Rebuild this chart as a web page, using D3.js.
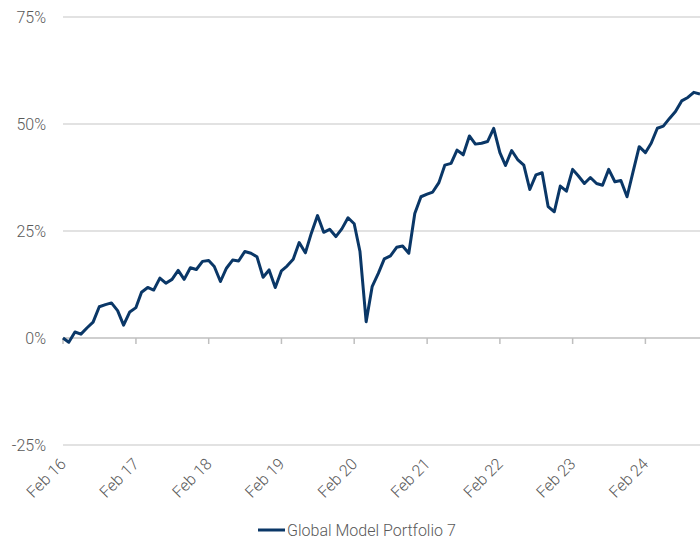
<!DOCTYPE html>
<html>
<head>
<meta charset="utf-8">
<script src="https://cdn.jsdelivr.net/npm/d3@7"></script>
<style>
  body { margin: 0; background: #fff; }
  svg text { font-family: Roboto, "Liberation Sans", sans-serif; font-weight: 300; fill: #595959; }
</style>
</head>
<body>
<svg id="chart" width="700" height="542"></svg>
<script>
// monthly cumulative return (%), Feb 2016 .. Nov 2024
const startMonth = new Date(2016, 1, 1);
const portfolio7 = [
  0, -1.0, 1.4, 0.9, 2.4, 3.7, 7.3, 7.8, 8.2, 6.4, 3.0, 6.1,
  7.1, 10.7, 11.8, 11.2, 14.0, 12.8, 13.7, 15.8, 13.7, 16.4, 16.0, 17.9,
  18.1, 16.7, 13.2, 16.3, 18.2, 18.0, 20.2, 19.8, 19.0, 14.2, 15.9, 11.8,
  15.7, 16.8, 18.4, 22.3, 19.9, 24.5, 28.6, 24.7, 25.4, 23.7, 25.5, 28.1,
  26.7, 20.2, 3.8, 12.0, 15.1, 18.5, 19.2, 21.2, 21.5, 19.8, 29.1, 33.0,
  33.6, 34.1, 36.3, 40.4, 40.8, 43.9, 42.8, 47.2, 45.3, 45.5, 45.9, 49.0,
  43.3, 40.3, 43.8, 41.7, 40.4, 34.7, 38.1, 38.6, 30.7, 29.5, 35.5, 34.3,
  39.4, 37.9, 36.1, 37.5, 36.1, 35.7, 39.4, 36.5, 36.8, 33.0, 38.8, 44.7,
  43.3, 45.5, 49.0, 49.5, 51.3, 52.9, 55.4, 56.2, 57.4, 57.0
];
const seriesName = "Global Model Portfolio 7";
const yTicks = [-25, 0, 25, 50, 75];
const xTickLabels = ["Feb 16", "Feb 17", "Feb 18", "Feb 19", "Feb 20", "Feb 21", "Feb 22", "Feb 23", "Feb 24"];

const dates = portfolio7.map((d, i) => d3.timeMonth.offset(startMonth, i));
const xTickDates = xTickLabels.map((d, i) => new Date(2016 + i, 1, 1));

const svg = d3.select("#chart");
const left = 63, right = 700;

const x = d3.scaleTime().domain([dates[0], dates[dates.length - 1]]).range([left, right]);
const y = d3.scaleLinear().domain([-25, 75]).range([445, 17]);

// gridlines
svg.append("g").selectAll("line").data(yTicks.filter(d => d !== 0)).enter().append("line")
  .attr("x1", left).attr("x2", right)
  .attr("y1", d => y(d)).attr("y2", d => y(d))
  .attr("stroke", "#d9d9d9").attr("stroke-width", 1.5);

// y labels
svg.append("g").selectAll("text").data(yTicks).enter().append("text")
  .attr("x", 46).attr("y", d => y(d)).attr("dy", "0.35em")
  .attr("text-anchor", "end").style("font-size", "16px")
  .text(d => d + "%");

// zero axis with ticks
svg.append("line").attr("x1", left).attr("x2", right)
  .attr("y1", y(0)).attr("y2", y(0))
  .attr("stroke", "#bfbfbf").attr("stroke-width", 1.5);
svg.append("g").selectAll("line").data(xTickDates).enter().append("line")
  .attr("x1", d => x(d)).attr("x2", d => x(d))
  .attr("y1", y(0)).attr("y2", y(0) + 6)
  .attr("stroke", "#bfbfbf").attr("stroke-width", 1.5);

// x labels, rotated, below the plot
svg.append("g").selectAll("text").data(xTickDates).enter().append("text")
  .attr("transform", d => "translate(" + (x(d) + 4) + ",465) rotate(-45)")
  .attr("text-anchor", "end").style("font-size", "16px")
  .text((d, i) => xTickLabels[i]);

// the series
svg.append("path").datum(portfolio7)
  .attr("fill", "none").attr("stroke", "#0a3767").attr("stroke-width", 3)
  .attr("stroke-linejoin", "round")
  .attr("d", d3.line().x((d, i) => x(dates[i])).y(d => y(d)));

// legend
const legend = svg.append("g");
legend.append("line").attr("x1", 258).attr("x2", 285).attr("y1", 530).attr("y2", 530)
  .attr("stroke", "#0a3767").attr("stroke-width", 3);
legend.append("text").attr("x", 287).attr("y", 530).attr("dy", "0.35em")
  .style("font-size", "16px").text(seriesName);
</script>
</body>
</html>
